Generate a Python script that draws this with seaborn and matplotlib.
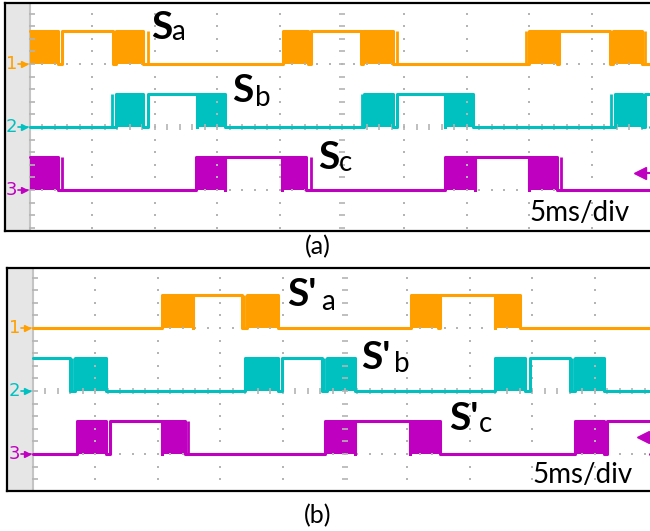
import numpy as np
import seaborn as sns
import matplotlib.pyplot as plt

sns.set_style("white")
plt.rcParams['font.family'] = ['Lato', 'DejaVu Sans']

# scope channel colours
colors = ['#ffa000', '#00c0c0', '#c000c0']

# ---- panel (a), times in ms (5 ms/div) ----
sa_pwm = [(0.0, 2.24), (6.89, 9.05), (20.27, 22.28), (26.68, 29.09), (39.98, 42.23), (46.71, 49.04)]
sa_high = [(2.56, 6.65), (22.52, 26.52), (42.39, 46.47)]
sa_spike = [9.46, 29.41, 39.74, 49.28]

sb_pwm = [(6.89, 9.05), (13.38, 15.63), (26.76, 29.09), (33.25, 35.50), (46.88, 49.04)]
sb_high = [(9.46, 13.38), (29.41, 33.25), (49.28, 51.0)]
sb_spike = [6.57, 26.60, 46.55]

sc_pwm = [(0.0, 2.24), (13.30, 15.63), (20.19, 22.12), (33.25, 35.66), (39.98, 42.23)]
sc_high = [(15.63, 20.19), (35.66, 39.98)]
sc_spike = [2.56, 22.52, 42.55]

# ---- panel (b) ----
pa_pwm = [(10.34, 12.82), (17.15, 19.63), (30.29, 32.45), (37.02, 39.02)]
pa_high = [(12.82, 16.75), (32.61, 37.02)]
pa_spike = [16.91]

pb_pwm = [(3.37, 5.85), (16.99, 19.63), (23.56, 25.80), (37.02, 39.42), (43.43, 45.75)]
pb_high = [(0.0, 2.96), (19.95, 23.16), (39.82, 43.03)]
pb_spike = [3.13, 23.32, 43.19]

pc_pwm = [(3.53, 5.85), (10.34, 12.18), (23.40, 25.80), (30.21, 32.61), (43.43, 45.75)]
pc_high = [(6.17, 10.34), (25.80, 30.21), (45.99, 51.0)]
pc_spike = [12.42]

bases = [1.0, 0.0, -1.0]
amp = 0.53

W, H = 650, 531
fig = plt.figure(figsize=(W / 100, H / 100), dpi=100)


def draw_channel(ax, base, pwm, high, spike, color, xmax):
    on = sorted(pwm + high)
    xs, ys = [0.0], [base + amp if on[0][0] <= 0 else base]
    for a, b in on:
        if a > 0:
            xs += [a, a]
            ys += [base, base + amp]
        xs += [b, b]
        ys += [base + amp, base]
    xs.append(xmax)
    ys.append(base)
    sns.lineplot(x=xs, y=ys, sort=False, estimator=None, color=color, lw=2.2, ax=ax)
    for a, b in pwm:
        ax.fill_between([a, b], base, base + amp, color=color, lw=0)
    ax.vlines(spike, base, base + amp, color=color, lw=2.0)


def draw_screen(ax, x0px, left_px, cpx, top_px, bot_px):
    k = 5 / 62.4
    xlo, xhi = -(x0px - left_px) * k, (W - x0px) * k
    ylo, yhi = (cpx - bot_px) / 63, (cpx - top_px) / 63
    ax.set_xlim(xlo, xhi)
    ax.set_ylim(ylo, yhi)
    ax.axvspan(xlo, 0, color='#e6e6e6', lw=0, zorder=0)
    ax.axvline(0, color='#c4c4c4', lw=1.5, zorder=0)
    gc = '#b4b4b4'
    yd = np.arange(-2, 2.01, 0.2)
    for xv in range(5, 50, 5):
        if xv == 25:
            ax.plot([xv] * len(yd), yd, ls='none', marker='_', ms=5, mew=1.2, color=gc)
        else:
            ax.plot([xv] * len(yd), yd, ls='none', marker='s', ms=1.8, mew=0, color=gc)
    ax.plot([0.2] * len(yd), yd, ls='none', marker='_', ms=5, mew=1.2, color=gc)
    xd = np.arange(1, 50, 1.0)
    for yv in (-1, 1):
        ax.plot(xd, [yv] * len(xd), ls='none', marker='s', ms=1.8, mew=0, color=gc)
    ax.plot(xd, [0] * len(xd), ls='none', marker='|', ms=5, mew=1.2, color=gc)
    for s in ['top', 'left', 'bottom']:
        ax.spines[s].set_color('black')
        ax.spines[s].set_linewidth(1.6)
    ax.spines['right'].set_visible(False)
    ax.set_xticks([])
    ax.set_yticks([])
    for i, b in enumerate(bases):
        ax.text(-1.5, b, str(i + 1), color=colors[i], fontsize=13, ha='center', va='center',
                family='DejaVu Sans')
        ax.plot([-1.0, -0.15], [b, b], color=colors[i], lw=1.2)
        ax.plot(-0.5, b, marker='>', ms=5, color=colors[i])
    ax.plot([48.9, xhi], [-0.73, -0.73], color=colors[2], lw=1.5)
    ax.plot(48.9, -0.73, marker='<', ms=8, color=colors[2])
    return xhi


ax_a = fig.add_axes([5 / W, 1 - 231 / H, 645 / W, 228 / H])
ax_b = fig.add_axes([7 / W, 1 - 491 / H, 643 / W, 223 / H])

xa = draw_screen(ax_a, 30, 5, 127, 3, 231)
xb = draw_screen(ax_b, 33, 7, 391, 268, 491)

panel_a = [(sa_pwm, sa_high, sa_spike), (sb_pwm, sb_high, sb_spike), (sc_pwm, sc_high, sc_spike)]
panel_b = [(pa_pwm, pa_high, pa_spike), (pb_pwm, pb_high, pb_spike), (pc_pwm, pc_high, pc_spike)]
for i, (p, h, s) in enumerate(panel_a):
    draw_channel(ax_a, bases[i], p, h, s, colors[i], xa)
for i, (p, h, s) in enumerate(panel_b):
    draw_channel(ax_b, bases[i], p, h, s, colors[i], xb)


def put(x, y, s, **kw):
    fig.text(x / W, 1 - y / H, s, **kw)


big = dict(fontsize=28, fontweight='bold', color='black', va='baseline')
sub = dict(fontsize=20, color='black', va='baseline')
labels = [(151, 39, 'S', 171, 40, 'a'), (232, 102, 'S', 255, 106, 'b'), (318, 169, 'S', 339, 171, 'c'),
          (287, 306, "S'", 321, 310, 'a'), (361, 369, "S'", 394, 372, 'b'), (449, 430, "S'", 479, 432, 'c')]
for x1, y1, s1, x2, y2, s2 in labels:
    put(x1, y1, s1, **big)
    put(x2, y2, s2, **sub)

put(529, 221, '5ms/div', fontsize=20, color='black', va='baseline')
put(532, 483, '5ms/div', fontsize=20, color='black', va='baseline')
put(318, 247, '(a)', fontsize=18, color='black', ha='center', va='center')
put(318, 516, '(b)', fontsize=18, color='black', ha='center', va='center')

fig.savefig('out.png', dpi=100)
